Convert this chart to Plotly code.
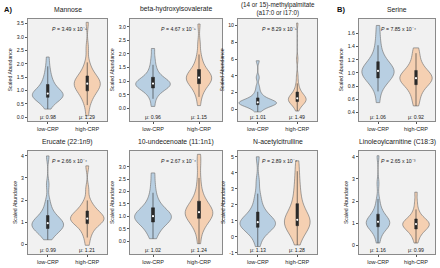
import numpy as np
import plotly.graph_objects as go

groups = ["low-CRP", "high-CRP"]

titles = ["Mannose", "beta-hydroxyisovalerate",
          "(14 or 15)-methylpalmitate<br>(a17:0 or i17:0)", "Serine",
          "Erucate (22:1n9)", "10-undecenoate (11:1n1)",
          "N-acetylcitrulline", "Linoleoylcarnitine (C18:3)"]

p_texts = ["3.49 x 10\u207b\u2075", "4.67 x 10\u207b\u2075", "8.29 x 10\u207b\u2075",
           "7.85 x 10\u207b\u2074", "2.66 x 10\u207b\u2074", "2.67 x 10\u207b\u2074",
           "2.89 x 10\u207b\u2074", "2.65 x 10\u207b\u00b3"]

mu_low = ["0.98", "0.96", "1.01", "1.06", "0.99", "1.02", "1.13", "1.16"]
mu_high = ["1.29", "1.15", "1.49", "0.92", "1.21", "1.24", "1.28", "0.99"]

mannose_low = [0.30, 0.48, 0.58, 0.64, 0.69, 0.72, 0.75, 0.77, 0.79, 0.81, 0.83, 0.85, 0.88,
               0.91, 0.95, 0.99, 1.04, 1.10, 1.20, 1.28, 1.38, 1.50, 1.68, 1.90, 2.25]
mannose_high = [0.05, 0.45, 0.62, 0.75, 0.85, 0.93, 1.00, 1.05, 1.10, 1.15, 1.19, 1.22, 1.25,
                1.29, 1.33, 1.37, 1.42, 1.47, 1.52, 1.60, 1.70, 1.85, 2.05, 2.60, 3.55]
bhiv_low = [0.07, 0.35, 0.50, 0.60, 0.67, 0.72, 0.76, 0.79, 0.82, 0.85, 0.87, 0.89, 0.91,
            0.94, 0.97, 1.00, 1.04, 1.08, 1.12, 1.20, 1.30, 1.42, 1.60, 1.85, 2.20]
bhiv_high = [0.10, 0.42, 0.58, 0.70, 0.80, 0.87, 0.92, 0.97, 1.01, 1.05, 1.08, 1.10, 1.13,
             1.17, 1.21, 1.25, 1.30, 1.35, 1.40, 1.50, 1.62, 1.78, 1.98, 2.40, 3.10]
mpalm_low = [-0.30, 0.05, 0.22, 0.35, 0.45, 0.52, 0.58, 0.64, 0.69, 0.73, 0.77, 0.80, 0.84,
             0.89, 0.95, 1.02, 1.10, 1.20, 1.32, 1.50, 1.75, 2.10, 2.70, 3.80, 5.80]
mpalm_high = [-0.20, 0.30, 0.50, 0.65, 0.78, 0.88, 0.95, 1.02, 1.08, 1.14, 1.20, 1.26, 1.32,
              1.40, 1.48, 1.58, 1.70, 1.85, 2.00, 2.25, 2.60, 3.10, 4.00, 6.00, 10.30]
serine_low = [0.55, 0.72, 0.80, 0.85, 0.88, 0.91, 0.93, 0.95, 0.97, 0.99, 1.01, 1.02, 1.03,
              1.05, 1.07, 1.09, 1.11, 1.13, 1.16, 1.20, 1.25, 1.32, 1.42, 1.55, 1.72]
serine_high = [0.50, 0.58, 0.66, 0.72, 0.76, 0.80, 0.83, 0.85, 0.87, 0.89, 0.90, 0.91, 0.92,
               0.93, 0.95, 0.97, 0.99, 1.01, 1.03, 1.06, 1.10, 1.15, 1.22, 1.30, 1.38]
erucate_low = [0.20, 0.35, 0.48, 0.57, 0.63, 0.68, 0.72, 0.76, 0.80, 0.84, 0.88, 0.92, 0.95,
               0.99, 1.03, 1.08, 1.14, 1.20, 1.27, 1.38, 1.52, 1.72, 2.00, 2.70, 4.00]
erucate_high = [-0.05, 0.30, 0.50, 0.65, 0.78, 0.88, 0.95, 1.00, 1.05, 1.09, 1.12, 1.14, 1.16,
                1.20, 1.25, 1.30, 1.36, 1.42, 1.48, 1.56, 1.66, 1.80, 1.98, 2.50, 3.55]
undec_low = [0.10, 0.30, 0.45, 0.56, 0.65, 0.73, 0.79, 0.84, 0.88, 0.92, 0.95, 0.98, 1.01,
             1.05, 1.09, 1.14, 1.20, 1.26, 1.32, 1.42, 1.55, 1.72, 1.95, 2.30, 2.75]
undec_high = [-0.10, 0.35, 0.55, 0.68, 0.78, 0.87, 0.94, 1.00, 1.05, 1.09, 1.12, 1.14, 1.17,
              1.22, 1.28, 1.35, 1.43, 1.50, 1.58, 1.70, 1.88, 2.15, 2.55, 3.10, 3.50]
nacit_low = [-0.60, -0.10, 0.15, 0.32, 0.45, 0.55, 0.62, 0.68, 0.74, 0.79, 0.84, 0.88, 0.92,
             0.98, 1.05, 1.14, 1.24, 1.36, 1.50, 1.70, 1.95, 2.30, 2.70, 3.50, 5.00]
nacit_high = [-0.50, 0.00, 0.25, 0.42, 0.55, 0.65, 0.72, 0.80, 0.87, 0.93, 0.98, 1.02, 1.07,
              1.15, 1.25, 1.38, 1.55, 1.78, 2.00, 2.30, 2.65, 3.05, 3.50, 4.10, 4.75]
linol_low = [0.10, 0.35, 0.55, 0.66, 0.74, 0.80, 0.85, 0.89, 0.93, 0.97, 1.00, 1.03, 1.06,
             1.10, 1.14, 1.19, 1.25, 1.31, 1.38, 1.48, 1.62, 1.82, 2.10, 2.80, 4.05]
linol_high = [0.10, 0.32, 0.46, 0.56, 0.64, 0.70, 0.75, 0.79, 0.83, 0.87, 0.90, 0.93, 0.96,
              0.99, 1.02, 1.05, 1.09, 1.13, 1.17, 1.24, 1.33, 1.45, 1.62, 1.95, 2.40]

data_low = [mannose_low, bhiv_low, mpalm_low, serine_low,
            erucate_low, undec_low, nacit_low, linol_low]
data_high = [mannose_high, bhiv_high, mpalm_high, serine_high,
             erucate_high, undec_high, nacit_high, linol_high]

ytick_vals = [[0, 0.5, 1, 1.5, 2, 2.5, 3, 3.5], [0, 0.5, 1, 1.5, 2, 2.5, 3],
              [0, 2, 4, 6, 8, 10], [0.4, 0.6, 0.8, 1.0, 1.2, 1.4, 1.6],
              [0, 1, 2, 3, 4], [0, 0.5, 1, 1.5, 2, 2.5, 3],
              [-1, 0, 1, 2, 3, 4, 5], [0, 1, 2, 3, 4]]
ytick_fmt = ["{:.1f}", "{:.1f}", "{:.0f}", "{:.1f}", "{:.0f}", "{:.1f}", "{:.0f}", "{:.0f}"]

# ---- style / layout constants ----
W, H = 440, 268
cols_px = [(28, 107), (130, 222), (238, 317), (359, 435)]
rows_px = [(19, 122), (152, 256)]
title_cy = [10, 9, 9, 10, 143, 143, 143, 143]
y_ranges = [[-0.15, 3.68], [-0.47, 3.29], [-1.4, 10.8], [0.27, 1.82],
            [-0.45, 4.23], [-0.52, 3.64], [-1.07, 5.37], [-0.4, 4.27]]
vwidth_low = [0.78, 0.75, 0.95, 0.85, 0.8, 0.8, 0.9, 0.62]
vwidth_high = [0.66, 0.55, 0.45, 0.85, 0.85, 0.6, 0.65, 0.7]
BLUE = "rgba(168,197,222,0.78)"
ORANGE = "rgba(246,199,160,0.78)"
FONT = "Liberation Sans, Arial, sans-serif"
BOXC = "#2a2a2a"
TXT = "#222"

fig = go.Figure()
annotations = []
layout = {}

for i in range(8):
    r, c = divmod(i, 4)
    k = i + 1
    xa = "x" if k == 1 else f"x{k}"
    ya = "y" if k == 1 else f"y{k}"
    x0, x1 = cols_px[c]
    y0, y1 = rows_px[r]
    for g, vals, col, vw in [(groups[0], data_low[i], BLUE, vwidth_low[i]),
                             (groups[1], data_high[i], ORANGE, vwidth_high[i])]:
        fig.add_trace(go.Violin(
            x=[g] * len(vals), y=vals, xaxis=xa, yaxis=ya,
            fillcolor=col, line=dict(color="#7a7a7a", width=0.7),
            points=False, spanmode="hard", width=vw, scalemode="width",
            box=dict(visible=True, width=0.065 / vw, fillcolor=BOXC,
                     line=dict(color=BOXC, width=0.6)),
            meanline=dict(visible=False), showlegend=False, hoverinfo="skip"))
        fig.add_trace(go.Scatter(
            x=[g], y=[float(np.median(vals))], xaxis=xa, yaxis=ya, mode="markers",
            marker=dict(color="white", size=2.2), showlegend=False, hoverinfo="skip"))

    layout[("xaxis" if k == 1 else f"xaxis{k}")] = dict(
        domain=[x0 / W, x1 / W], anchor=ya, type="category",
        categoryorder="array", categoryarray=groups, range=[-0.5, 1.5],
        showline=True, mirror=True, linecolor="#8a8a8a", linewidth=1,
        ticks="outside", ticklen=2, tickcolor="#555", tickwidth=0.6,
        tickfont=dict(size=5.5, color=TXT, family=FONT),
        showgrid=False, zeroline=False, fixedrange=True)
    layout[("yaxis" if k == 1 else f"yaxis{k}")] = dict(
        domain=[1 - y1 / H, 1 - y0 / H], anchor=xa, range=y_ranges[i],
        tickvals=ytick_vals[i], ticktext=[ytick_fmt[i].format(v) for v in ytick_vals[i]],
        showline=True, mirror=True, linecolor="#8a8a8a", linewidth=1,
        ticks="outside", ticklen=2, tickcolor="#555", tickwidth=0.6,
        tickfont=dict(size=5.2, color=TXT, family=FONT),
        title=dict(text="Scaled Abundance", font=dict(size=5.2, color=TXT, family=FONT),
                   standoff=3),
        showgrid=False, zeroline=False, fixedrange=True)

    annotations.append(dict(
        text=titles[i], xref="paper", yref="paper", x=(x0 + x1) / 2 / W,
        y=1 - title_cy[i] / H, yanchor="middle", xanchor="center", showarrow=False,
        font=dict(size=6.8 if i != 2 else 6.3, color=TXT, family=FONT)))
    annotations.append(dict(
        text="<i>P</i> = " + p_texts[i], xref=xa, yref=f"{ya} domain",
        x=0.55, y=0.9, xanchor="center", yanchor="middle", showarrow=False,
        font=dict(size=5.2, color=TXT, family=FONT)))
    for g, mu in [(groups[0], mu_low[i]), (groups[1], mu_high[i])]:
        annotations.append(dict(
            text="\u03bc: " + mu, xref=xa, yref=f"{ya} domain", x=g, y=0.0,
            xanchor="center", yanchor="bottom", showarrow=False, yshift=-1,
            font=dict(size=5.2, color=TXT, family=FONT)))

annotations.append(dict(text="<b>A)</b>", xref="paper", yref="paper", x=2 / W, y=1 - 3 / H,
                        xanchor="left", yanchor="top", showarrow=False,
                        font=dict(size=7.5, color="#111", family=FONT)))
annotations.append(dict(text="<b>B)</b>", xref="paper", yref="paper", x=335 / W, y=1 - 3 / H,
                        xanchor="left", yanchor="top", showarrow=False,
                        font=dict(size=7.5, color="#111", family=FONT)))

fig.update_layout(
    width=W, height=H, margin=dict(l=0, r=0, t=0, b=0),
    paper_bgcolor="white", plot_bgcolor="#f1f1f1",
    annotations=annotations, showlegend=False, violingap=0, violinmode="overlay",
    **layout)

fig.write_html("out.html", config={"displayModeBar": False},
               post_script="document.body.style.margin='0px';")
